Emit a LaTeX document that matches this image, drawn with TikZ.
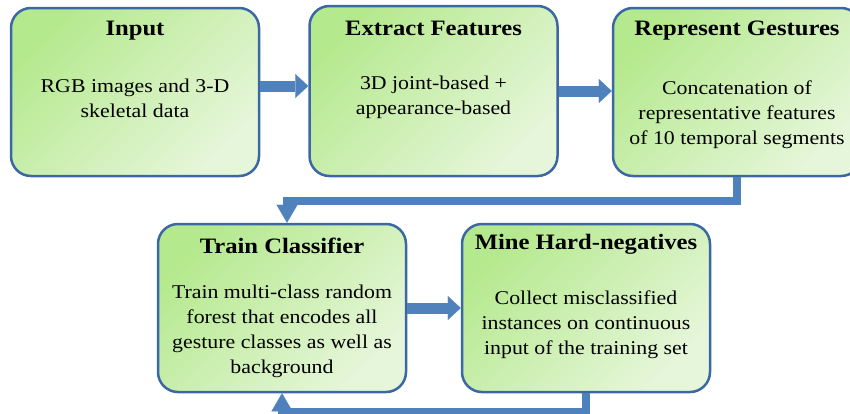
\documentclass[tikz,border=0pt]{standalone}
\usepackage{fontspec}
\setmainfont{Liberation Serif}[FakeStretch=1.12]
\usetikzlibrary{arrows.meta,calc}
\definecolor{boxedge}{HTML}{3B68A4}
\definecolor{boxtop}{HTML}{B5E98E}
\definecolor{boxbottom}{HTML}{E6F6DA}
\definecolor{arrowblue}{HTML}{4F81BD}
\begin{document}
\begin{tikzpicture}[x=1pt, y=-1pt,
		stagebox/.style = {draw=boxedge, line width=2.5pt, rounded corners=20pt,
			top color=boxtop, bottom color=boxbottom, shading angle=45,
			minimum width=248pt, minimum height=168pt, inner sep=0pt},
		stagetitle/.style = {font=\fontsize{22}{26}\selectfont\bfseries},
		stagetext/.style = {font=\fontsize{19.5}{25}\selectfont, align=center},
		blockarrow/.style = {line width=11pt, arrowblue,
			-{Triangle[width=24pt, length=13pt, line width=0.1pt]}},
		elbow/.style = {line width=8pt, arrowblue,
			-{Triangle[width=21pt, length=18pt, line width=0.1pt]}}
	]
	\useasboundingbox (0,0) rectangle (850,413);
	% first row
	\node[stagebox] (input) at (135,92) {};
	\node[stagebox, minimum height=170pt] (extract) at (433.5,91) {};
	\node[stagebox] (represent) at (737,92) {};
	% second row
	\node[stagebox] (train) at (282,308) {};
	\node[stagebox] (mine) at (586,308) {};

	\node[stagetitle] (inputT) at ($(input.north)+(0,24)$) {Input};
	\node[stagetext] (inputB) at ($(input.center)+(0,6)$) {RGB images and 3-D\\skeletal data};
	\node[stagetitle] (extractT) at ($(extract.north)+(0,24)$) {Extract Features};
	\node[stagetext] (extractB) at ($(extract.center)+(0,6)$) {3D joint-based +\\appearance-based};
	\node[stagetitle] (representT) at ($(represent.north)+(0,24)$) {Represent Gestures};
	\node[stagetext] (representB) at ($(represent.center)+(0,23)$) {Concatenation of\\representative features\\of 10 temporal segments};
	\node[stagetitle] (trainT) at ($(train.north)+(0,23)$) {Train Classifier};
	\node[stagetext] (trainB) at ($(train.center)+(0,23)$) {Train multi-class random\\forest that encodes all\\gesture classes as well as\\background};
	\node[stagetitle] (mineT) at ($(mine.north)+(0,22)$) {Mine Hard-negatives};
	\node[stagetext] (mineB) at ($(mine.center)+(0,17)$) {Collect misclassified\\instances on continuous\\input of the training set};

	\draw[blockarrow] ([yshift=6pt]input.east) -- ([yshift=6pt]input.east -| extract.west);
	\draw[blockarrow] (extract.east) -- (extract.east -| represent.west);
	\draw[blockarrow] (train.east) -- (mine.west);
	\draw[elbow] (represent.south) -- ++(0,24) -| ([xshift=5pt]train.north);
	\draw[elbow] (mine.south) -- ++(0,19) -| (train.south);
\end{tikzpicture}
\end{document}
